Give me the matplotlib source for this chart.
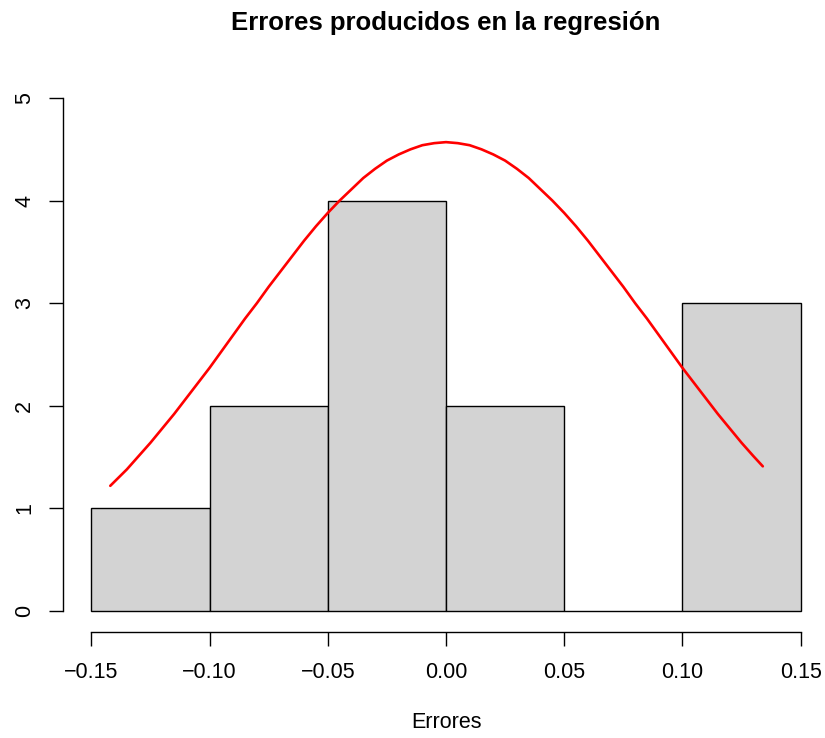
import matplotlib
matplotlib.use("Agg")
import matplotlib.pyplot as plt

plt.rcParams.update({
    "font.family": ["Liberation Sans", "DejaVu Sans"],
})

# histogram of the residuals
bin_edges = [-0.15, -0.10, -0.05, 0.00, 0.05, 0.10, 0.15]
counts = [1, 2, 4, 2, 0, 3]

# normal curve
curve_x = [-0.142, -0.135, -0.13, -0.125, -0.12, -0.115, -0.11, -0.105,
           -0.10, -0.095, -0.09, -0.085, -0.08, -0.075, -0.07, -0.065,
           -0.06, -0.055, -0.05, -0.045, -0.04, -0.035, -0.03, -0.025,
           -0.02, -0.015, -0.01, -0.005, 0.00, 0.005, 0.01, 0.015,
           0.02, 0.025, 0.03, 0.035, 0.04, 0.045, 0.05, 0.055,
           0.06, 0.065, 0.07, 0.075, 0.08, 0.085, 0.09, 0.095,
           0.10, 0.105, 0.11, 0.115, 0.12, 0.125, 0.13, 0.134]
curve_y = [1.22, 1.38, 1.51, 1.64, 1.78, 1.92, 2.07, 2.22,
           2.37, 2.53, 2.69, 2.85, 3.00, 3.16, 3.31, 3.46,
           3.61, 3.75, 3.88, 4.00, 4.11, 4.22, 4.31, 4.39,
           4.45, 4.50, 4.54, 4.56, 4.57, 4.56, 4.54, 4.50,
           4.45, 4.39, 4.31, 4.22, 4.11, 4.00, 3.88, 3.75,
           3.61, 3.46, 3.31, 3.16, 3.00, 2.85, 2.69, 2.53,
           2.37, 2.22, 2.07, 1.92, 1.78, 1.64, 1.51, 1.41]

x_ticks = [-0.15, -0.10, -0.05, 0.00, 0.05, 0.10, 0.15]
x_labels = ["\u22120.15", "\u22120.10", "\u22120.05", "0.00", "0.05", "0.10", "0.15"]
y_ticks = [0, 1, 2, 3, 4, 5]

W, H = 825, 738
fig = plt.figure(figsize=(W / 100, H / 100), dpi=100)
# plot region in pixels (R-style margins)
left, right, top, bottom = 63, 829, 77.5, 631.5
ax = fig.add_axes([left / W, 1 - bottom / H, (right - left) / W, (bottom - top) / H])

widths = [b - a for a, b in zip(bin_edges[:-1], bin_edges[1:])]
ax.bar(bin_edges[:-1], counts, width=widths, align="edge",
       color="#d3d3d3", edgecolor="black", linewidth=1.0)
ax.plot(curve_x, curve_y, color="#ff0000", linewidth=1.9,
        solid_joinstyle="round", solid_capstyle="round")

ax.set_xlim(-0.162, 0.162)
ax.set_ylim(-0.2, 5.2)

for s in ["top", "right"]:
    ax.spines[s].set_visible(False)
ax.spines["left"].set_bounds(0, 5)
ax.spines["bottom"].set_bounds(-0.15, 0.15)
ax.spines["left"].set_linewidth(1.0)
ax.spines["bottom"].set_linewidth(1.0)

ax.set_xticks(x_ticks)
ax.set_xticklabels(x_labels)
ax.set_yticks(y_ticks)
ax.set_yticklabels([str(v) for v in y_ticks], rotation=90, va="center")
ax.tick_params(axis="x", length=10, width=1.0, pad=12, labelsize=15.5)
ax.tick_params(axis="y", length=10, width=1.0, pad=10, labelsize=15.5)

fig.text((left + right) / 2 / W, 1 - 23 / H, "Errores producidos en la regresión",
         ha="center", va="center", fontsize=18.5, fontweight="bold")
fig.text((left + right) / 2 / W, 1 - 722 / H, "Errores",
         ha="center", va="center", fontsize=15.5)

fig.savefig("out.png", dpi=100)
